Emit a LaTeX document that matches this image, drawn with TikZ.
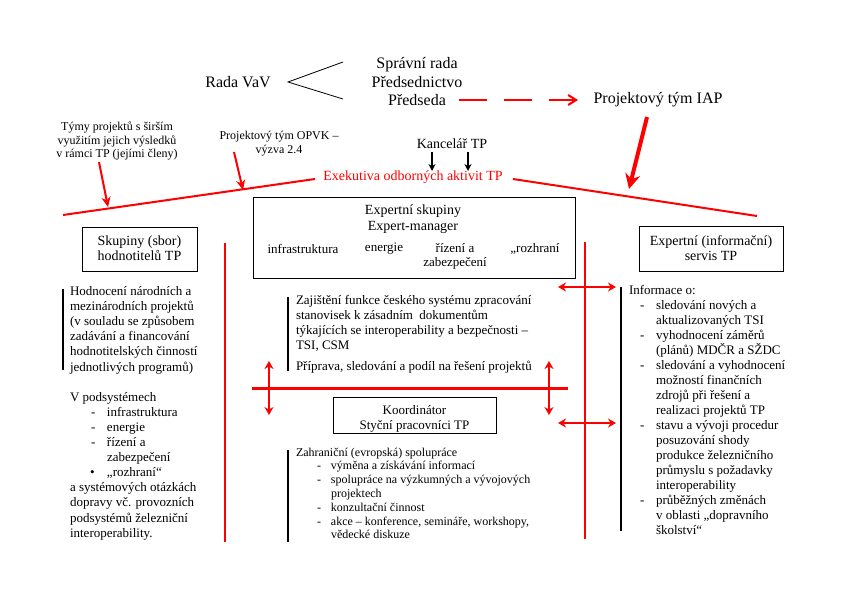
\documentclass[tikz,border=0pt]{standalone}
\usepackage{fontspec}
\setmainfont{Liberation Serif}
\usetikzlibrary{arrows.meta}
\newcommand\mkitem[3]{\makebox[#2][l]{\hspace*{#1}#3}}
\begin{document}
\begin{tikzpicture}[x=1pt,y=-1pt,
  every node/.style={inner sep=0pt, outer sep=0pt},
  fbig/.style={font=\fontsize{16}{18.5}\selectfont},
  fmed/.style={font=\fontsize{14}{15.5}\selectfont},
  fbody/.style={font=\fontsize{13}{15}\selectfont},
  fsmall/.style={font=\fontsize{12}{13.8}\selectfont},
  box/.style={draw, line width=1pt},
  bar/.style={draw, line width=2pt},
  redline/.style={draw=red, line width=2pt},
  redarrow/.style={draw=red, line width=2pt, -{Stealth[length=10pt,width=9pt]}, red},
  dblv/.style={draw=red, line width=2pt, red, {Stealth[length=8pt,width=9pt]}-{Stealth[length=8pt,width=9pt]}},
  blackarrow/.style={draw=black, line width=1.5pt, -{Stealth[length=7pt,width=7pt]}}
]
\useasboundingbox[fill=white] (0,0) rectangle (842,595);

% ---------- top ----------
\node[fbig] (rada) at (238,82) {Rada VaV};
\node[fbig, align=center] (sprava) at (417,82) {Správní rada\\Předsednictvo\\Předseda};
\node[fbig] (iap) at (658,100) {Projektový tým IAP};

\coordinate (apex) at (288,82);
\coordinate (vtop) at (343,62);
\coordinate (vbot) at (343,99);
\draw[line width=0.8pt] (vtop) -- (apex) -- (vbot);

\coordinate (dstart) at (459,100);
\coordinate (dmid) at (532,100);
\coordinate (dlast) at (549,100);
\coordinate (dend) at (578,100);
\draw[red, line width=1.2pt, dash pattern=on 28pt off 17pt] (dstart) -- (dmid);
\draw[red, line width=2pt, -{Straight Barb[length=8pt,width=10pt]}] (dlast) -- (dend);

\coordinate (iapfrom) at (647,117);
\coordinate (iapto) at (629,189);
\draw[red, line width=4pt, -{Stealth[length=15pt,width=15pt]}] (iapfrom) -- (iapto);

\node[fsmall, align=center] (tymy) at (117,141) {Týmy projektů s širším\\využitím jejich výsledků\\v rámci TP (jejími členy)};
\node[fsmall, align=center] (opvk) at (279,143.5) {Projektový tým OPVK –\\výzva 2.4};
\coordinate (tymyfrom) at (99,162);
\coordinate (tymyto) at (108,207);
\coordinate (opvkfrom) at (234,152);
\coordinate (opvkto) at (243,190);
\draw[redarrow] (tymyfrom) -- (tymyto);
\draw[redarrow] (opvkfrom) -- (opvkto);

\node[fmed] (kanc) at (452,144) {Kancelář TP};
\coordinate (k1a) at (432,152); \coordinate (k1b) at (432,171);
\coordinate (k2a) at (468,152); \coordinate (k2b) at (468,171);
\draw[blackarrow] (k1a) -- (k1b);
\draw[blackarrow] (k2a) -- (k2b);

\node[fmed, text=red] (exek) at (413,177) {Exekutiva odborných aktivit TP};
\coordinate (exl1) at (63,215); \coordinate (exl2) at (315,179);
\coordinate (exr1) at (513,179); \coordinate (exr2) at (757,216);
\draw[redline] (exl1) -- (exl2);
\draw[redline] (exr1) -- (exr2);

% ---------- boxes ----------
\node[box, minimum width=322pt, minimum height=81pt] (expbox) at (414,237.5) {};
\node[fmed, align=center, font=\fontsize{14}{16}\selectfont] (exptitle) at (413,219) {Expertní skupiny\\Expert-manager};
\node[fbody] (einfra) at (303,249) {infrastruktura};
\node[fbody] (eenerg) at (384,249) {energie};
\node[fbody, align=center, font=\fontsize{13}{14}\selectfont] (erizeni) at (455,256) {řízení a\\zabezpečení};
\node[fbody] (erozhr) at (535,249) {„rozhraní};

\node[box, minimum width=115pt, minimum height=44pt] (skbox) at (139.5,249) {};
\node[fmed, align=center, font=\fontsize{14}{15}\selectfont] (sktxt) at (139.5,248.5) {Skupiny (sbor)\\hodnotitelů TP};

\node[box, minimum width=144pt, minimum height=45pt] (servbox) at (711,248.5) {};
\node[fmed, align=center, font=\fontsize{14}{15}\selectfont] (servtxt) at (711,248) {Expertní (informační)\\servis TP};

\begin{scope}
\clip (333,397) rectangle (496,431);
\node[align=center, anchor=north, font=\fontsize{13}{15}\selectfont] (koordtxt) at (414.5,403.5) {\strut Koordinátor\\Styční pracovníci TP};
\end{scope}
\node[box, minimum width=163pt, minimum height=36pt] (koord) at (414.5,415) {};

% ---------- red structure ----------
\coordinate (vl1) at (225,243); \coordinate (vl2) at (225,542);
\coordinate (vr1) at (585,242); \coordinate (vr2) at (585,539);
\draw[redline] (vl1) -- (vl2);
\draw[redline] (vr1) -- (vr2);
\coordinate (h1) at (252,388); \coordinate (h2) at (568,388);
\draw[red, line width=3pt] (h1) -- (h2);
\coordinate (da1) at (269,361); \coordinate (da2) at (269,415);
\coordinate (db1) at (549,361); \coordinate (db2) at (549,415);
\draw[dblv] (da1) -- (da2);
\draw[dblv] (db1) -- (db2);
\coordinate (ha1) at (558,287); \coordinate (ha2) at (616,287);
\coordinate (hb1) at (558,423); \coordinate (hb2) at (616,423);
\draw[dblv] (ha1) -- (ha2);
\draw[dblv] (hb1) -- (hb2);

% ---------- black bars ----------
\coordinate (b1a) at (63,289); \coordinate (b1b) at (63,370);
\coordinate (b2a) at (288,297); \coordinate (b2b) at (288,371);
\coordinate (b3a) at (288,450); \coordinate (b3b) at (288,542);
\coordinate (b4a) at (621,287); \coordinate (b4b) at (621,531);
\draw[bar] (b1a) -- (b1b);
\draw[bar] (b2a) -- (b2b);
\draw[bar] (b3a) -- (b3b);
\draw[bar] (b4a) -- (b4b);

% ---------- text blocks ----------
\node[fbody, font=\fontsize{13}{15.1}\selectfont, align=left, anchor=north west] (lb) at (70,285) {%
\strut Hodnocení národních a\\
mezinárodních projektů\\
(v souladu se způsobem\\
zadávání a financování\\
hodnotitelských činností\\
jednotlivých programů)\\[15.1pt]
V podsystémech\\
\mkitem{21pt}{37pt}{-}infrastruktura\\
\mkitem{21pt}{37pt}{-}energie\\
\mkitem{21pt}{37pt}{-}řízení a\\
\mkitem{21pt}{37pt}{}zabezpečení\\
\mkitem{20pt}{37pt}{•}„rozhraní“\\
a systémových otázkách\\
dopravy vč. provozních\\
podsystémů železniční\\
interoperability.};

\node[fbody, align=left, anchor=north west] (cb1) at (296,294) {%
\strut Zajištění funkce českého systému zpracování\\
stanovisek k zásadním \ dokumentům\\
týkajících se interoperability a bezpečnosti –\\
TSI, CSM\\[6pt]
Příprava, sledování a podíl na řešení projektů};

\node[fsmall, align=left, anchor=north west] (cb2) at (296,446.5) {%
\strut Zahraniční (evropská) spolupráce\\
\mkitem{21pt}{35pt}{-}výměna a získávání informací\\
\mkitem{21pt}{35pt}{-}spolupráce na výzkumných a vývojových\\
\mkitem{21pt}{35pt}{}projektech\\
\mkitem{21pt}{35pt}{-}konzultační činnost\\
\mkitem{21pt}{35pt}{-}akce – konference, semináře, workshopy,\\
\mkitem{21pt}{35pt}{}vědecké diskuze};

\node[fbody, align=left, anchor=north west] (rb) at (629,283.5) {%
\strut Informace o:\\
\mkitem{11pt}{27pt}{-}sledování nových a\\
\mkitem{11pt}{27pt}{}aktualizovaných TSI\\
\mkitem{11pt}{27pt}{-}vyhodnocení záměrů\\
\mkitem{11pt}{27pt}{}(plánů) MDČR a SŽDC\\
\mkitem{11pt}{27pt}{-}sledování a vyhodnocení\\
\mkitem{11pt}{27pt}{}možností finančních\\
\mkitem{11pt}{27pt}{}zdrojů při řešení a\\
\mkitem{11pt}{27pt}{}realizaci projektů TP\\
\mkitem{11pt}{27pt}{-}stavu a vývoji procedur\\
\mkitem{11pt}{27pt}{}posuzování shody\\
\mkitem{11pt}{27pt}{}produkce železničního\\
\mkitem{11pt}{27pt}{}průmyslu s požadavky\\
\mkitem{11pt}{27pt}{}interoperability\\
\mkitem{11pt}{27pt}{-}průběžných změnách\\
\mkitem{11pt}{27pt}{}v oblasti „dopravního\\
\mkitem{11pt}{27pt}{}školství“};
\end{tikzpicture}
\end{document}
